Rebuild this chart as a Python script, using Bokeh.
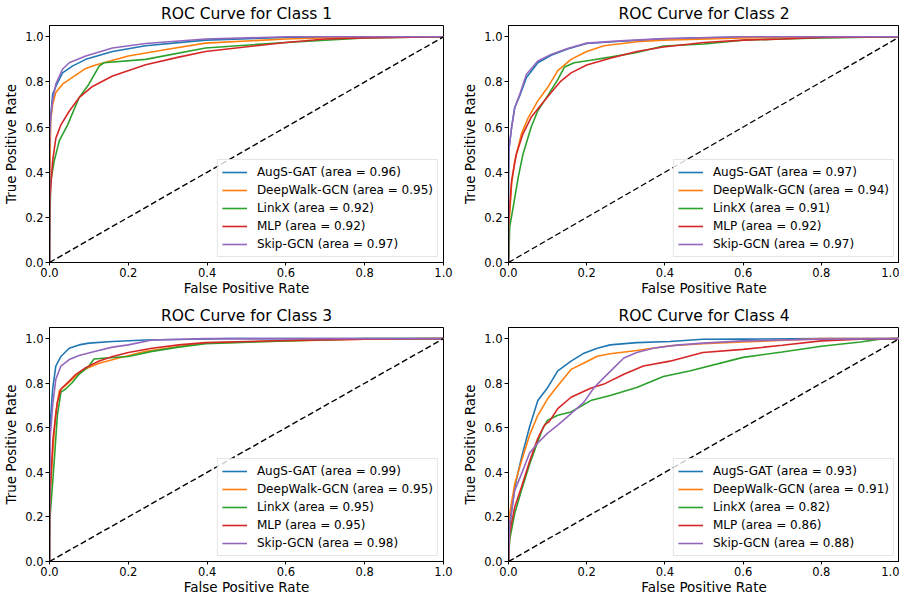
from bokeh.plotting import figure
from bokeh.layouts import column, row
from bokeh.models import FixedTicker, Legend, LegendItem, Range1d, Title
from bokeh.embed import file_html
from bokeh.resources import INLINE

# ---------------- data ----------------
models = ["AugS-GAT", "DeepWalk-GCN", "LinkX", "MLP", "Skip-GCN"]
colors = ["#1f77b4", "#ff7f0e", "#2ca02c", "#d62728", "#9467bd"]
class_titles = ["ROC Curve for Class 1", "ROC Curve for Class 2",
                "ROC Curve for Class 3", "ROC Curve for Class 4"]
x_label = "False Positive Rate"
y_label = "True Positive Rate"
auc_c1 = [0.96, 0.95, 0.92, 0.92, 0.97]
auc_c2 = [0.97, 0.94, 0.91, 0.92, 0.97]
auc_c3 = [0.99, 0.95, 0.95, 0.95, 0.98]
auc_c4 = [0.93, 0.91, 0.82, 0.86, 0.88]
tick_vals = [0.0, 0.2, 0.4, 0.6, 0.8, 1.0]
tick_labels = ["0.0", "0.2", "0.4", "0.6", "0.8", "1.0"]
diag_x = [0.0, 1.0]
diag_y = [0.0, 1.0]

# Class 1
c1_augs_fpr = [0, 0, 0.003, 0.008, 0.016, 0.033, 0.058, 0.092, 0.16, 0.244, 0.396, 0.6, 0.8, 1.0]
c1_augs_tpr = [0, 0.45, 0.65, 0.745, 0.78, 0.84, 0.87, 0.90, 0.935, 0.96, 0.985, 0.997, 1.0, 1.0]
c1_deep_fpr = [0, 0, 0.003, 0.008, 0.016, 0.033, 0.058, 0.092, 0.117, 0.2, 0.3, 0.396, 0.6, 0.8, 1.0]
c1_deep_tpr = [0, 0.3, 0.63, 0.70, 0.753, 0.79, 0.82, 0.86, 0.875, 0.915, 0.945, 0.972, 0.99, 1.0, 1.0]
c1_link_fpr = [0, 0, 0.001, 0.003, 0.012, 0.025, 0.046, 0.075, 0.1, 0.126, 0.138, 0.244, 0.396, 0.6, 0.8, 1.0]
c1_link_tpr = [0, 0.1, 0.16, 0.36, 0.45, 0.54, 0.61, 0.73, 0.79, 0.87, 0.885, 0.90, 0.95, 0.975, 0.995, 1.0]
c1_mlp_fpr = [0, 0, 0.001, 0.008, 0.016, 0.029, 0.05, 0.075, 0.109, 0.16, 0.244, 0.328, 0.396, 0.6, 0.7, 0.8, 1.0]
c1_mlp_tpr = [0, 0.05, 0.28, 0.45, 0.55, 0.61, 0.67, 0.73, 0.78, 0.826, 0.876, 0.91, 0.935, 0.975, 0.99, 0.995, 1.0]
c1_skip_fpr = [0, 0, 0.002, 0.008, 0.016, 0.033, 0.05, 0.092, 0.16, 0.244, 0.396, 0.6, 1.0]
c1_skip_tpr = [0, 0.5, 0.62, 0.72, 0.79, 0.856, 0.885, 0.915, 0.95, 0.97, 0.99, 1.0, 1.0]

# Class 2
c2_augs_fpr = [0, 0, 0.001, 0.008, 0.016, 0.029, 0.046, 0.075, 0.109, 0.151, 0.2, 0.286, 0.396, 0.6, 1.0]
c2_augs_tpr = [0, 0.35, 0.5, 0.6, 0.687, 0.74, 0.82, 0.885, 0.918, 0.946, 0.97, 0.98, 0.99, 1.0, 1.0]
c2_deep_fpr = [0, 0, 0.001, 0.008, 0.016, 0.033, 0.05, 0.075, 0.1, 0.126, 0.16, 0.2, 0.244, 0.328, 0.396, 0.6, 0.8, 1.0]
c2_deep_tpr = [0, 0.1, 0.157, 0.35, 0.45, 0.57, 0.64, 0.716, 0.775, 0.85, 0.9, 0.935, 0.96, 0.978, 0.985, 0.995, 1.0, 1.0]
c2_link_fpr = [0, 0, 0.001, 0.003, 0.012, 0.025, 0.037, 0.058, 0.075, 0.1, 0.126, 0.143, 0.168, 0.21, 0.26, 0.328, 0.396, 0.5, 0.6, 0.7, 0.8, 1.0]
c2_link_tpr = [0, 0.02, 0.025, 0.157, 0.245, 0.378, 0.48, 0.6, 0.672, 0.738, 0.81, 0.866, 0.885, 0.896, 0.91, 0.93, 0.959, 0.968, 0.985, 0.99, 0.995, 1.0]
c2_mlp_fpr = [0, 0, 0.008, 0.02, 0.037, 0.058, 0.084, 0.109, 0.134, 0.16, 0.2, 0.26, 0.328, 0.396, 0.5, 0.6, 0.7, 0.8, 1.0]
c2_mlp_tpr = [0, 0.17, 0.363, 0.48, 0.57, 0.643, 0.70, 0.753, 0.804, 0.84, 0.875, 0.905, 0.935, 0.955, 0.975, 0.985, 0.99, 0.997, 1.0]
c2_skip_fpr = [0, 0, 0.001, 0.008, 0.016, 0.029, 0.046, 0.075, 0.109, 0.151, 0.2, 0.286, 0.396, 0.6, 1.0]
c2_skip_tpr = [0, 0.4, 0.5, 0.6, 0.687, 0.746, 0.834, 0.893, 0.922, 0.948, 0.972, 0.982, 0.992, 1.0, 1.0]

# Class 3
c3_augs_fpr = [0, 0, 0.001, 0.008, 0.016, 0.029, 0.05, 0.075, 0.1, 0.16, 0.244, 0.36, 0.45, 1.0]
c3_augs_tpr = [0, 0.3, 0.6, 0.774, 0.877, 0.92, 0.957, 0.972, 0.98, 0.987, 0.994, 0.997, 1.0, 1.0]
c3_deep_fpr = [0, 0, 0.001, 0.008, 0.016, 0.025, 0.041, 0.067, 0.092, 0.126, 0.176, 0.244, 0.328, 0.396, 0.6, 0.8, 1.0]
c3_deep_tpr = [0, 0.1, 0.275, 0.48, 0.67, 0.767, 0.79, 0.833, 0.865, 0.89, 0.913, 0.943, 0.965, 0.98, 0.99, 0.998, 1.0]
c3_link_fpr = [0, 0, 0.001, 0.012, 0.02, 0.029, 0.041, 0.058, 0.075, 0.1, 0.113, 0.143, 0.2, 0.26, 0.328, 0.396, 0.6, 0.8, 1.0]
c3_link_tpr = [0, 0.1, 0.19, 0.45, 0.656, 0.76, 0.774, 0.803, 0.84, 0.877, 0.909, 0.913, 0.92, 0.943, 0.962, 0.977, 0.99, 1.0, 1.0]
c3_mlp_fpr = [0, 0, 0.001, 0.009, 0.02, 0.029, 0.046, 0.067, 0.092, 0.126, 0.16, 0.2, 0.26, 0.328, 0.396, 0.6, 0.8, 1.0]
c3_mlp_tpr = [0, 0.1, 0.3, 0.554, 0.715, 0.774, 0.803, 0.84, 0.87, 0.9, 0.92, 0.938, 0.957, 0.972, 0.982, 0.992, 0.998, 1.0]
c3_skip_fpr = [0, 0, 0.001, 0.008, 0.016, 0.029, 0.05, 0.075, 0.117, 0.16, 0.2, 0.26, 0.396, 1.0]
c3_skip_tpr = [0, 0.15, 0.54, 0.70, 0.818, 0.877, 0.906, 0.924, 0.943, 0.962, 0.972, 0.994, 1.0, 1.0]

# Class 4
c4_augs_fpr = [0, 0.003, 0.016, 0.033, 0.054, 0.075, 0.1, 0.126, 0.16, 0.193, 0.227, 0.26, 0.328, 0.413, 0.497, 0.6, 0.8, 1.0]
c4_augs_tpr = [0, 0.157, 0.333, 0.465, 0.605, 0.722, 0.78, 0.855, 0.899, 0.935, 0.957, 0.972, 0.982, 0.987, 0.997, 0.998, 1.0, 1.0]
c4_deep_fpr = [0, 0.003, 0.016, 0.033, 0.054, 0.075, 0.1, 0.126, 0.16, 0.193, 0.227, 0.26, 0.328, 0.413, 0.497, 0.6, 0.8, 1.0]
c4_deep_tpr = [0, 0.216, 0.348, 0.45, 0.568, 0.656, 0.73, 0.789, 0.862, 0.891, 0.921, 0.932, 0.947, 0.968, 0.977, 0.985, 1.0, 1.0]
c4_link_fpr = [0, 0.003, 0.016, 0.033, 0.054, 0.075, 0.088, 0.1, 0.126, 0.16, 0.21, 0.26, 0.328, 0.396, 0.463, 0.6, 0.7, 0.8, 0.9, 0.95, 1.0]
c4_link_tpr = [0, 0.098, 0.216, 0.319, 0.436, 0.539, 0.598, 0.634, 0.656, 0.671, 0.722, 0.745, 0.781, 0.83, 0.855, 0.916, 0.94, 0.966, 0.985, 0.998, 1.0]
c4_mlp_fpr = [0, 0.003, 0.016, 0.033, 0.054, 0.075, 0.092, 0.105, 0.126, 0.16, 0.21, 0.244, 0.295, 0.345, 0.413, 0.497, 0.6, 0.7, 0.8, 0.9, 1.0]
c4_mlp_tpr = [0, 0.128, 0.245, 0.333, 0.45, 0.553, 0.612, 0.63, 0.686, 0.737, 0.777, 0.796, 0.84, 0.877, 0.899, 0.938, 0.952, 0.97, 0.99, 0.997, 1.0]
c4_skip_fpr = [0, 0.003, 0.016, 0.033, 0.054, 0.075, 0.1, 0.126, 0.16, 0.193, 0.219, 0.244, 0.27, 0.295, 0.328, 0.37, 0.43, 0.497, 0.6, 0.8, 1.0]
c4_skip_tpr = [0, 0.172, 0.319, 0.392, 0.487, 0.532, 0.576, 0.612, 0.664, 0.715, 0.781, 0.825, 0.87, 0.913, 0.938, 0.957, 0.971, 0.98, 0.99, 0.998, 1.0]

curves_c1 = [(c1_augs_fpr, c1_augs_tpr), (c1_deep_fpr, c1_deep_tpr), (c1_link_fpr, c1_link_tpr),
             (c1_mlp_fpr, c1_mlp_tpr), (c1_skip_fpr, c1_skip_tpr)]
curves_c2 = [(c2_augs_fpr, c2_augs_tpr), (c2_deep_fpr, c2_deep_tpr), (c2_link_fpr, c2_link_tpr),
             (c2_mlp_fpr, c2_mlp_tpr), (c2_skip_fpr, c2_skip_tpr)]
curves_c3 = [(c3_augs_fpr, c3_augs_tpr), (c3_deep_fpr, c3_deep_tpr), (c3_link_fpr, c3_link_tpr),
             (c3_mlp_fpr, c3_mlp_tpr), (c3_skip_fpr, c3_skip_tpr)]
curves_c4 = [(c4_augs_fpr, c4_augs_tpr), (c4_deep_fpr, c4_deep_tpr), (c4_link_fpr, c4_link_tpr),
             (c4_mlp_fpr, c4_mlp_tpr), (c4_skip_fpr, c4_skip_tpr)]

FONT = "DejaVu Sans"


def make_panel(title, curves, aucs, width, height, mb_left, mb_right, mb_bottom):
    p = figure(width=width, height=height, output_backend="svg", toolbar_location=None,
               x_range=Range1d(0, 1), y_range=Range1d(0, 1.05),
               min_border_left=mb_left, min_border_right=mb_right,
               min_border_top=0, min_border_bottom=mb_bottom)
    p.title.text = title
    p.title.align = "center"
    p.title.text_font = FONT
    p.title.text_font_size = "15.5px"
    p.title.text_font_style = "normal"
    p.title.text_color = "black"
    p.title.standoff = 5
    p.grid.visible = False
    p.background_fill_color = "white"
    p.border_fill_color = "white"
    p.outline_line_color = "black"
    p.outline_line_alpha = 1
    p.outline_line_width = 1
    for ax in (p.xaxis[0], p.yaxis[0]):
        ax.ticker = FixedTicker(ticks=tick_vals)
        ax.major_label_overrides = {v: s for v, s in zip(tick_vals, tick_labels)}
        ax.major_label_text_font = FONT
        ax.major_label_text_font_size = "11.5px"
        ax.major_label_text_color = "black"
        ax.major_label_standoff = 2
        ax.major_tick_in = 0
        ax.major_tick_out = 4
        ax.major_tick_line_color = "black"
        ax.minor_tick_line_color = None
        ax.axis_line_color = "black"
        ax.axis_label_text_font = FONT
        ax.axis_label_text_font_size = "13.5px"
        ax.axis_label_text_font_style = "normal"
        ax.axis_label_text_color = "black"
        ax.axis_label_standoff = 3
    p.xaxis[0].major_tick_out = 3
    p.yaxis.axis_label = y_label
    xt = Title(text=x_label, align="center", text_font=FONT, text_font_size="13.5px",
               text_font_style="normal", text_color="black", standoff=0,
               vertical_align="top")
    p.add_layout(xt, "below")

    items = []
    for (fpr, tpr), name, auc, col in zip(curves, models, aucs, colors):
        r = p.line(fpr, tpr, line_color=col, line_width=1.6)
        items.append(LegendItem(label=f"{name} (area = {auc:.2f})", renderers=[r]))
    p.line(diag_x, diag_y, line_color="black", line_width=1.4, line_dash="6 3")

    leg = Legend(items=items, location="bottom_right")
    leg.label_text_font = FONT
    leg.label_text_font_size = "12px"
    leg.label_text_color = "black"
    leg.glyph_width = 25
    leg.glyph_height = 16
    leg.label_height = 16
    leg.label_standoff = 10
    leg.spacing = 2
    leg.padding = 4
    leg.margin = 5
    leg.border_line_color = "#cccccc"
    leg.border_line_width = 1
    leg.background_fill_alpha = 0.8
    p.add_layout(leg)
    return p


p1 = make_panel(class_titles[0], curves_c1, auc_c1, 459, 302, 42, 16, 40)
p2 = make_panel(class_titles[1], curves_c2, auc_c2, 440, 302, 42, 0, 40)
p3 = make_panel(class_titles[2], curves_c3, auc_c3, 459, 294, 42, 16, 0)
p4 = make_panel(class_titles[3], curves_c4, auc_c4, 440, 294, 42, 0, 0)

layout = column(row(p1, p2), row(p3, p4))
open("out.html", "w").write(file_html(layout, INLINE))
